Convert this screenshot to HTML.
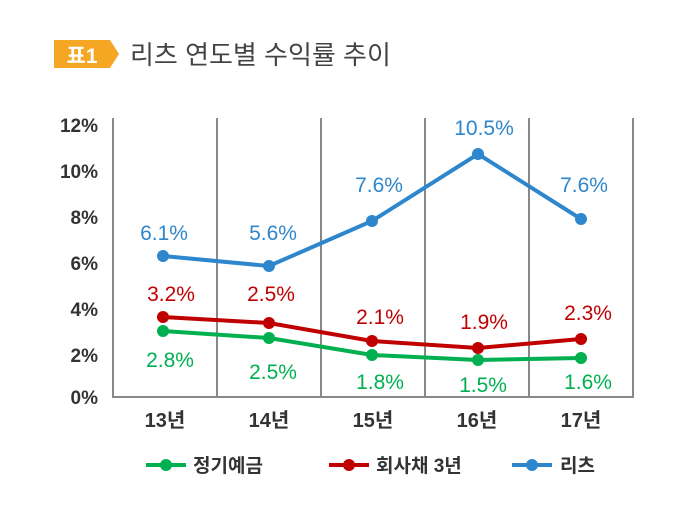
<!DOCTYPE html>
<html><head><meta charset="utf-8"><style>
body{margin:0;background:#fff;}
svg text{font-family:"Liberation Sans","Noto Sans CJK KR",sans-serif;}
</style></head><body>
<svg width="700" height="500" xmlns="http://www.w3.org/2000/svg">
<polygon points="54,40 110,40 119,54 110,68 54,68" fill="#f5a623"/>
<text x="82" y="63" font-size="21" font-weight="bold" fill="#fff" text-anchor="middle">표1</text>
<text x="130" y="64" font-size="26" fill="#444">리츠 연도별 수익률 추이</text>
<g stroke="#888" stroke-width="2">
<line x1="113" y1="118" x2="113" y2="397"/>
<line x1="217" y1="118" x2="217" y2="397"/>
<line x1="321" y1="118" x2="321" y2="397"/>
<line x1="425" y1="118" x2="425" y2="397"/>
<line x1="529" y1="118" x2="529" y2="397"/>
<line x1="633" y1="118" x2="633" y2="397"/>
<line x1="112" y1="397" x2="634" y2="397"/>
</g>
<g font-size="19" font-weight="bold" fill="#333" text-anchor="end">
<text x="98" y="132">12%</text><text x="98" y="178">10%</text><text x="98" y="224">8%</text>
<text x="98" y="270">6%</text><text x="98" y="316">4%</text><text x="98" y="362">2%</text><text x="98" y="404">0%</text>
</g>
<g font-size="20" font-weight="bold" fill="#333" text-anchor="middle">
<text x="165" y="427">13년</text><text x="269" y="427">14년</text><text x="373" y="427">15년</text><text x="477" y="427">16년</text><text x="581" y="427">17년</text>
</g>
<g stroke-width="4" fill="none">
<polyline stroke="#00b050" points="163,331 269,338 372,355 478,360 581,358"/>
<polyline stroke="#c00000" points="163,317 269,323 372,341 478,348 581,339"/>
<polyline stroke="#2e86cc" points="163,256 269,266 372,221 478,154 581,219"/>
</g>
<g fill="#00b050"><circle cx="163" cy="331" r="6"/><circle cx="269" cy="338" r="6"/><circle cx="372" cy="355" r="6"/><circle cx="478" cy="360" r="6"/><circle cx="581" cy="358" r="6"/></g>
<g fill="#c00000"><circle cx="163" cy="317" r="6"/><circle cx="269" cy="323" r="6"/><circle cx="372" cy="341" r="6"/><circle cx="478" cy="348" r="6"/><circle cx="581" cy="339" r="6"/></g>
<g fill="#2e86cc"><circle cx="163" cy="256" r="6"/><circle cx="269" cy="266" r="6"/><circle cx="372" cy="221" r="6"/><circle cx="478" cy="154" r="6"/><circle cx="581" cy="219" r="6"/></g>
<g font-size="21" text-anchor="middle">
<g fill="#2e86cc"><text x="164" y="240">6.1%</text><text x="273" y="240">5.6%</text><text x="379" y="192">7.6%</text><text x="484" y="135">10.5%</text><text x="584" y="192">7.6%</text></g>
<g fill="#c00000"><text x="171" y="301">3.2%</text><text x="271" y="301">2.5%</text><text x="380" y="324">2.1%</text><text x="484" y="329">1.9%</text><text x="588" y="320">2.3%</text></g>
<g fill="#00b050"><text x="170" y="367">2.8%</text><text x="273" y="379">2.5%</text><text x="380" y="389">1.8%</text><text x="483" y="392">1.5%</text><text x="588" y="389">1.6%</text></g>
</g>
<g stroke-width="4">
<line x1="146" y1="465" x2="186" y2="465" stroke="#00b050"/>
<line x1="329" y1="465" x2="369" y2="465" stroke="#c00000"/>
<line x1="512" y1="465" x2="552" y2="465" stroke="#2e86cc"/>
</g>
<circle cx="166" cy="465" r="6" fill="#00b050"/>
<circle cx="349" cy="465" r="6" fill="#c00000"/>
<circle cx="532" cy="465" r="6" fill="#2e86cc"/>
<g font-size="19" font-weight="bold" fill="#333">
<text x="193" y="472">정기예금</text><text x="376" y="472">회사채 3년</text><text x="560" y="472">리츠</text>
</g>
</svg>
</body></html>
